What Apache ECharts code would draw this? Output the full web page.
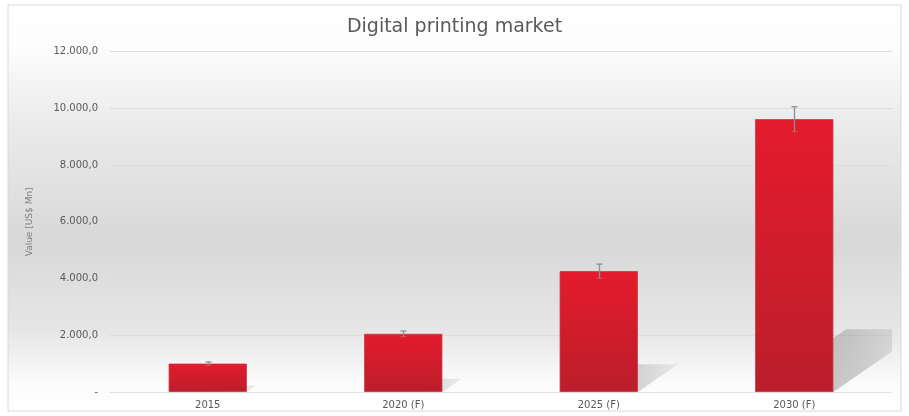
<!DOCTYPE html>
<html>
<head>
<meta charset="utf-8">
<script src="https://cdn.jsdelivr.net/npm/echarts@6/dist/echarts.min.js"></script>
<style>
html,body{margin:0;padding:0;background:#fff;}
#c{width:909px;height:416px;}
</style>
</head>
<body>
<div id="c"></div>
<script>
var categories = ['2015', '2020 (F)', '2025 (F)', '2030 (F)'];
var values = [1000, 2050, 4260, 9620];
var errors = [60, 100, 250, 440];
var yTicks = [0, 2000, 4000, 6000, 8000, 10000, 12000];

function fmt(v) {
  if (v === 0) return '-';
  var s = Math.round(v).toString().replace(/\B(?=(\d{3})+(?!\d))/g, '.');
  return s + ',0';
}

var chart = echarts.init(document.getElementById('c'), null, {renderer: 'canvas'});
var FONT = 'DejaVu Sans';

var option = {
  animation: false,
  backgroundColor: '#ffffff',
  title: {
    text: 'Digital printing market',
    left: 'center',
    top: 13,
    textStyle: {fontFamily: FONT, fontSize: 19, fontWeight: 'normal', color: '#595959'}
  },
  graphic: [
    {
      type: 'rect', z: -10, silent: true,
      shape: {x: 8, y: 5, width: 893, height: 406},
      style: {
        fill: new echarts.graphic.LinearGradient(0, 0, 0, 1, [
          {offset: 0, color: '#ffffff'},
          {offset: 0.10, color: '#fdfdfd'},
          {offset: 0.28, color: '#ececec'},
          {offset: 0.58, color: '#d8d8d8'},
          {offset: 0.80, color: '#e6e6e6'},
          {offset: 0.93, color: '#fbfbfb'},
          {offset: 1, color: '#ffffff'}
        ]),
        stroke: '#d9d9d9', lineWidth: 1
      }
    }
  ],
  grid: {left: 110, right: 17, top: 51.7, bottom: 24, containLabel: false},
  xAxis: {
    type: 'category',
    data: categories,
    axisTick: {show: false},
    axisLine: {lineStyle: {color: '#e4e4e4', width: 1}},
    axisLabel: {fontFamily: FONT, fontSize: 10, color: '#595959', margin: 8}
  },
  yAxis: {
    type: 'value',
    min: 0, max: 12000, interval: 2000,
    name: 'Value [US$ Mn]',
    nameLocation: 'middle',
    nameRotate: 90,
    nameGap: 76,
    nameTextStyle: {fontFamily: FONT, fontSize: 9, color: '#7f7f7f'},
    axisLine: {show: false},
    axisTick: {show: false},
    splitLine: {lineStyle: {color: '#dcdcdc', width: 1}},
    axisLabel: {fontFamily: FONT, fontSize: 10, color: '#595959', margin: 12,
      formatter: function (v) { return fmt(v); }}
  },
  series: [
    {
      type: 'custom',
      name: 'shadow',
      clip: true,
      z: 1,
      data: values.map(function (v, i) { return [i, v]; }),
      renderItem: function (params, api) {
        var base = api.coord([api.value(0), 0]);
        var top = api.coord([api.value(0), api.value(1)]);
        var bw = api.size([1, 0])[0] * 0.4;
        var H = base[1] - top[1];
        var h = H * 0.23;
        var dx = h * 1.45;
        var l = base[0] - bw / 2, r = base[0] + bw / 2;
        return {
          type: 'polygon',
          shape: {points: [[l, base[1]], [r, base[1]], [r + dx, base[1] - h], [l + dx, base[1] - h]]},
          style: {
            fill: new echarts.graphic.LinearGradient(0, 1, 1, 0, [
              {offset: 0, color: 'rgba(105,105,105,0.55)'},
              {offset: 0.6, color: 'rgba(140,140,140,0.4)'},
              {offset: 1, color: 'rgba(175,175,175,0.2)'}
            ])
          }
        };
      }
    },
    {
      type: 'bar',
      name: 'Value',
      data: values,
      barWidth: '40%',
      z: 2,
      itemStyle: {
        color: new echarts.graphic.LinearGradient(0, 0, 0, 1, [
          {offset: 0, color: '#e41b2d'},
          {offset: 1, color: '#bb1e2b'}
        ]),
        borderColor: '#c9333e',
        borderWidth: 0.8
      }
    },
    {
      type: 'custom',
      name: 'error',
      z: 3,
      data: values.map(function (v, i) { return [i, v - errors[i], v + errors[i]]; }),
      renderItem: function (params, api) {
        var lo = api.coord([api.value(0), api.value(1)]);
        var hi = api.coord([api.value(0), api.value(2)]);
        var x = Math.round(lo[0]) + 0.5;
        var c = 3;
        var st = {stroke: '#8f8f8f', lineWidth: 1.3};
        return {
          type: 'group',
          children: [
            {type: 'line', shape: {x1: x, y1: lo[1], x2: x, y2: hi[1]}, style: st},
            {type: 'line', shape: {x1: x - c, y1: hi[1], x2: x + c, y2: hi[1]}, style: st},
            {type: 'line', shape: {x1: x - c, y1: lo[1], x2: x + c, y2: lo[1]}, style: {stroke: 'rgba(200,120,120,0.6)', lineWidth: 1}}
          ]
        };
      }
    }
  ]
};
chart.setOption(option);
</script>
</body>
</html>
